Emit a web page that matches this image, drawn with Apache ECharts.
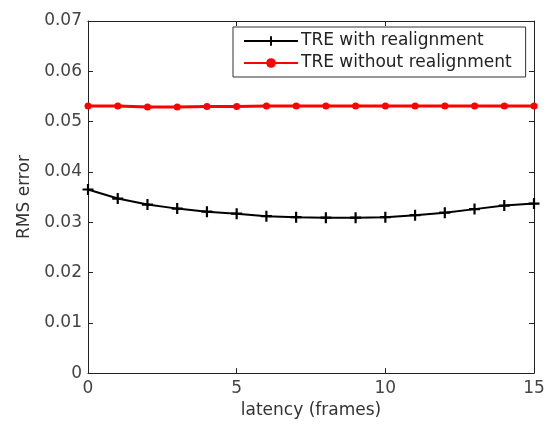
<!DOCTYPE html>
<html>
<head>
<meta charset="utf-8">
<script src="https://cdn.jsdelivr.net/npm/echarts@6/dist/echarts.min.js"></script>
<style>html,body{margin:0;padding:0;background:#fff;}#c{width:550px;height:424px;}</style>
</head>
<body>
<div id="c"></div>
<script>
const latency = [0,1,2,3,4,5,6,7,8,9,10,11,12,13,14,15];
const withRealign = [0.0365,0.0347,0.0335,0.0327,0.0321,0.0317,0.0312,0.0310,0.0309,0.0309,0.0310,0.0314,0.0319,0.0326,0.0333,0.0337];
const withoutRealign = [0.0531,0.0531,0.0529,0.0529,0.0530,0.0530,0.0531,0.0531,0.0531,0.0531,0.0531,0.0531,0.0531,0.0531,0.0531,0.0531];
const seriesNames = ['TRE with realignment','TRE without realignment'];
const xLabel = 'latency (frames)';
const yLabel = 'RMS error';

const FONT = 'DejaVu Sans';
const plusPath = 'path://M-2,-10H2V-2H10V2H2V10H-2V2H-10V-2H-2Z';
const chart = echarts.init(document.getElementById('c'), null, {renderer:'canvas'});
const axisLineStyle = {color:'#222', width:1};
const tickStyle = {show:true, inside:true, length:5, lineStyle:{color:'#222'}};
chart.setOption({
  animation:false,
  backgroundColor:'#fff',
  grid:{left:88, right:16, top:21, bottom:44, containLabel:false},
  legend:{
    orient:'vertical', left:233, top:27,
    padding:[4,14,4,10], itemGap:2, itemWidth:54, itemHeight:12,
    backgroundColor:'#fff', borderColor:'#333', borderWidth:1, borderRadius:0,
    textStyle:{fontFamily:FONT, fontSize:17, color:'#222', lineHeight:20, padding:[0,0,0,-2]},
    data:seriesNames
  },
  xAxis:[{
    type:'value', min:0, max:15, interval:5, position:'bottom',
    name:xLabel, nameLocation:'middle', nameGap:22,
    nameTextStyle:{fontFamily:FONT, fontSize:17, color:'#333'},
    axisLine:{show:true, onZero:false, lineStyle:axisLineStyle},
    axisTick:tickStyle,
    axisLabel:{fontFamily:FONT, fontSize:17, color:'#444', margin:7},
    splitLine:{show:false}
  },{
    type:'value', min:0, max:15, interval:5, position:'top',
    axisLine:{show:true, onZero:false, lineStyle:axisLineStyle},
    axisTick:tickStyle, axisLabel:{show:false}, splitLine:{show:false}
  }],
  yAxis:[{
    type:'value', min:0, max:0.07, interval:0.01, position:'left',
    name:yLabel, nameLocation:'middle', nameGap:52, nameRotate:90,
    nameTextStyle:{fontFamily:FONT, fontSize:17, color:'#333'},
    axisLine:{show:true, onZero:false, lineStyle:axisLineStyle},
    axisTick:tickStyle,
    axisLabel:{fontFamily:FONT, fontSize:17, color:'#444', margin:6,
      formatter:v=> v===0 ? '0' : v.toFixed(2)},
    splitLine:{show:false}
  },{
    type:'value', min:0, max:0.07, interval:0.01, position:'right',
    axisLine:{show:true, onZero:false, lineStyle:axisLineStyle},
    axisTick:tickStyle, axisLabel:{show:false}, splitLine:{show:false}
  }],
  series:[{
    name:seriesNames[0], type:'line', xAxisIndex:0, yAxisIndex:0,
    data:latency.map((x,i)=>[x, withRealign[i]]),
    symbol:plusPath, symbolSize:11, showAllSymbol:true,
    lineStyle:{color:'#000', width:2}, itemStyle:{color:'#000'},
    color:'#000', z:3
  },{
    name:seriesNames[1], type:'line', xAxisIndex:0, yAxisIndex:0,
    data:latency.map((x,i)=>[x, withoutRealign[i]]),
    symbol:'circle', symbolSize:7, showAllSymbol:true,
    lineStyle:{color:'#ff0000', width:3}, itemStyle:{color:'#ff0000'},
    color:'#ff0000', z:3
  }]
});
</script>
</body>
</html>
